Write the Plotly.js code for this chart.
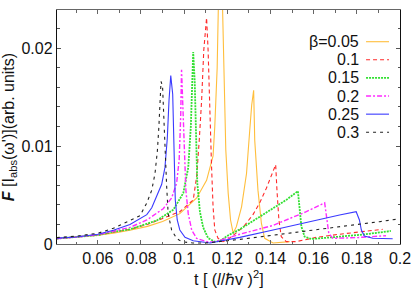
<!DOCTYPE html>
<html>
<head>
<meta charset="utf-8">
<script src="https://cdn.plot.ly/plotly-3.0.1.min.js"></script>
<style>html,body{margin:0;padding:0;background:#fff;}#chart{width:415px;height:291px;}</style>
</head>
<body>
<div id="chart"></div>
<script>
// ---- data ----
const betaLabels = ["β=0.05", "0.1", "0.15", "0.2", "0.25", "0.3"];

const t005 = [0.041,0.05,0.06,0.0672,0.0749,0.083,0.09,0.098,0.1058,0.1104,0.1134,0.1142,0.1153,0.1160,0.1168,0.1176,0.1184,0.1193,0.1204,0.1215,0.1227,0.1242,0.1266,0.1289,0.1304,0.1313,0.1322,0.1327,0.1342,0.1358,0.1373,0.1412,0.1489];
const i005 = [0.00055,0.0007,0.0009,0.0011,0.0014,0.0018,0.0023,0.0031,0.0047,0.0065,0.009,0.012,0.018,0.026,0.031,0.026,0.018,0.0096,0.0052,0.00245,0.0011,0.00177,0.0038,0.0072,0.01165,0.0142,0.0157,0.0106,0.0055,0.0021,0.00058,0.0001,0.00024];

const t010 = [0.041,0.05,0.06,0.0672,0.0749,0.083,0.0903,0.098,0.1042,0.1058,0.107,0.1081,0.1091,0.1104,0.1111,0.1119,0.1127,0.1134,0.1142,0.1157,0.118,0.1205,0.1227,0.1273,0.1319,0.135,0.1381,0.1404,0.1424,0.143,0.1439,0.145,0.1473,0.1519,0.1612,0.172,0.192];
const i010 = [0.00055,0.0007,0.0009,0.0012,0.0015,0.002,0.0026,0.0033,0.0045,0.0069,0.0106,0.0147,0.0198,0.0231,0.0198,0.013,0.0079,0.0038,0.00143,0.00058,0.00024,0.0005,0.0009,0.0017,0.003,0.0042,0.0057,0.007,0.0081,0.0055,0.00245,0.00075,0.00024,0.00024,0.00068,0.001,0.0015];

const t015 = [0.041,0.05,0.06,0.0672,0.0749,0.0873,0.095,0.0996,0.1019,0.1031,0.1038,0.1042,0.1049,0.1055,0.1061,0.1073,0.1088,0.1111,0.1142,0.1165,0.1205,0.1258,0.1335,0.1412,0.1473,0.1527,0.1535,0.1543,0.1558,0.1589,0.172,0.1843,0.1958];
const i015 = [0.00055,0.0007,0.0009,0.00125,0.0015,0.0024,0.0035,0.0052,0.0078,0.012,0.017,0.0196,0.0166,0.0113,0.0062,0.0033,0.0017,0.0006,0.00024,0.0003,0.0009,0.0015,0.0026,0.0037,0.0045,0.0054,0.0038,0.0018,0.00075,0.00051,0.00075,0.001,0.00133];

const t020 = [0.041,0.05,0.06,0.0672,0.0749,0.0827,0.0903,0.0942,0.0965,0.0977,0.0984,0.0988,0.0993,0.0999,0.1008,0.1019,0.1035,0.1058,0.1104,0.114,0.1258,0.1412,0.1566,0.1651,0.1661,0.167,0.1689,0.1797,0.1935];
const i020 = [0.00055,0.0007,0.00095,0.0013,0.0017,0.00245,0.0036,0.0047,0.0062,0.0086,0.013,0.0178,0.0147,0.0096,0.0055,0.0031,0.00143,0.00058,0.00024,0.0002,0.001,0.0019,0.0033,0.0042,0.00245,0.0011,0.00058,0.00065,0.00085];

const t025 = [0.041,0.05,0.06,0.0672,0.0749,0.0796,0.0827,0.085,0.0873,0.0896,0.0911,0.0922,0.093,0.0938,0.0947,0.0954,0.0959,0.0968,0.098,0.1004,0.1042,0.112,0.1258,0.1412,0.1566,0.172,0.1797,0.1812,0.1821,0.1835,0.1874,0.1966];
const i025 = [0.0006,0.00072,0.001,0.0014,0.002,0.0026,0.003,0.0037,0.0049,0.0061,0.0078,0.0108,0.0147,0.0172,0.0153,0.0096,0.0045,0.00245,0.00143,0.00068,0.00034,0.0001,0.00068,0.00143,0.00222,0.00296,0.0033,0.00245,0.00143,0.00082,0.00058,0.00054];

const t030 = [0.041,0.05,0.06,0.0672,0.0749,0.0796,0.0827,0.085,0.0865,0.0876,0.0883,0.0888,0.0893,0.09,0.0907,0.0911,0.0919,0.0926,0.0942,0.0965,0.0988,0.104,0.11,0.1273,0.1458,0.172,0.1904,0.1982];
const i030 = [0.00065,0.0008,0.0011,0.0016,0.0024,0.0029,0.0042,0.0055,0.0072,0.0095,0.012,0.0148,0.0166,0.0161,0.012,0.0086,0.0059,0.0031,0.00143,0.00058,0.00024,0.0001,0.0001,0.00051,0.00102,0.00171,0.00228,0.00252];

const xTickVals = [0.06,0.08,0.1,0.12,0.14,0.16,0.18,0.2];
const xTickText = ["0.06","0.08","0.1","0.12","0.14","0.16","0.18","0.2"];
const yTickVals = [0,0.01,0.02];
const yTickText = ["0","0.01","0.02"];
const xTitle = "t [ (<i>l</i>/ℏv )<sup>2</sup>]";
const yTitle = "<b><i>F</i></b> [I<sub>abs</sub>(ω')](arb. units)";

// ---- styles ----
const tArrays = [t005,t010,t015,t020,t025,t030];
const iArrays = [i005,i010,i015,i020,i025,i030];
const colors = ["#FFBE3C","#FF2A2A","#33E033","#FF2BFF","#3A3AFF","#222222"];
const dashes = ["solid","4px,3px","2px,1px","5px,2px,2px,2px","solid","3px,4px"];
const widths = [1.1,1.1,1.8,1.4,1.1,1.1];

const FONT = "Liberation Sans, Arial, Helvetica, sans-serif";

const traces = tArrays.map((t,k)=>({
  x: t, y: iArrays[k], type:"scatter", mode:"lines",
  line:{color:colors[k], dash:dashes[k], width:widths[k]},
  name: betaLabels[k], showlegend:false, hoverinfo:"skip"
}));

// manual legend (text right-aligned, sample line on the right)
const legTop = 0.8645, legStep = 0.0774, legTextX = 0.886, legL0 = 0.901, legL1 = 0.968;
const annotations = betaLabels.map((lab,k)=>({
  xref:"paper", yref:"paper", x:legTextX, y:legTop - k*legStep,
  xanchor:"right", yanchor:"middle", showarrow:false, text:lab,
  font:{family:FONT, size:16, color:"#111"}
}));
// x-axis title placed as an annotation to match the reference position
annotations.push({
  xref:"paper", yref:"paper", x:0.5, y:-0.147, xanchor:"center", yanchor:"middle",
  showarrow:false, text:xTitle, font:{family:FONT, size:16, color:"#111"}
});
const shapes = betaLabels.map((lab,k)=>({
  type:"line", xref:"paper", yref:"paper",
  x0:legL0, x1:legL1, y0:legTop - k*legStep, y1:legTop - k*legStep,
  line:{color:colors[k], dash:dashes[k], width:widths[k]}
}));

const layout = {
  width:415, height:291,
  margin:{l:57, r:15, t:10, b:47},
  paper_bgcolor:"#fff", plot_bgcolor:"#fff",
  font:{family:FONT, size:16, color:"#111"},
  showlegend:false,
  xaxis:{
    range:[0.0411,0.2], tickmode:"array", tickvals:xTickVals, ticktext:xTickText,
    ticks:"inside", ticklen:4, tickwidth:1, tickcolor:"#666",
    minor:{dtick:0.01, tick0:0, ticks:"inside", ticklen:2.5, tickcolor:"#666"},
    showline:true, linecolor:"#666", linewidth:1.2, mirror:"ticks",
    showgrid:false, zeroline:false,
    tickfont:{family:FONT, size:16, color:"#111"}
  },
  yaxis:{
    range:[0,0.0239], tickmode:"array", tickvals:yTickVals, ticktext:yTickText,
    ticks:"inside", ticklen:4, tickwidth:1, tickcolor:"#555",
    minor:{dtick:0.002, tick0:0, ticks:"inside", ticklen:2.5, tickcolor:"#555"},
    showline:true, linecolor:"#111", linewidth:1.2, mirror:"ticks",
    showgrid:false, zeroline:false,
    tickfont:{family:FONT, size:16, color:"#111"},
    title:{text:yTitle, font:{family:FONT, size:16, color:"#111"}, standoff:4}
  },
  annotations: annotations,
  shapes: shapes
};

Plotly.newPlot("chart", traces, layout, {staticPlot:true, displayModeBar:false});
</script>
</body>
</html>
